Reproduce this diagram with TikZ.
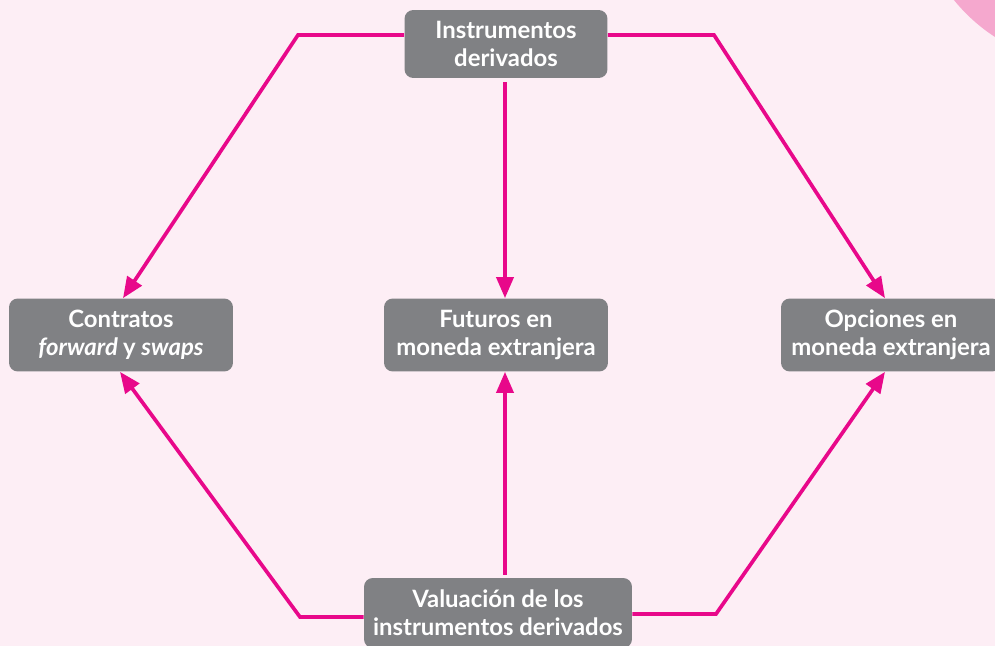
\documentclass[tikz,border=0pt]{standalone}
\usepackage{fontspec}
\setmainfont{Lato}
\usetikzlibrary{positioning,calc,arrows.meta}
\definecolor{bgpink}{HTML}{FDEEF5}
\definecolor{blobpink}{HTML}{F5A8CE}
\definecolor{boxgray}{HTML}{808184}
\definecolor{linkmag}{HTML}{E8088A}

\begin{document}
\begin{tikzpicture}[x=0.02cm, y=-0.02cm,
  every node/.style={fill=boxgray, rectangle, rounded corners=5pt, align=center, text=white, font=\bfseries\fontsize{13.6}{16}\selectfont, inner sep=0pt},
  link/.style={draw=linkmag, line width=2.1pt, -{Triangle[length=0.42cm, width=0.34cm]}}]
\useasboundingbox (0,0) rectangle (995,646);
\clip (0,0) rectangle (995,646);
\fill[bgpink] (0,0) rectangle (995,646);
\fill[blobpink] (1090,-110) circle[radius=3.5cm];

\node (instr) [minimum width=4.06cm, minimum height=1.36cm] at (506,44) {Instrumentos\\derivados};
\node (contratos) [minimum width=4.48cm, minimum height=1.46cm] at (121,335) {Contratos\\\itshape forward \upshape y \itshape swaps};
\node (futuros) [minimum width=4.48cm, minimum height=1.46cm] at (496,335) {Futuros en\\moneda extranjera};
\node (opciones) [minimum width=4.4cm, minimum height=1.46cm] at (891,335) {Opciones en\\moneda extranjera};
\node (valuacion) [minimum width=5.36cm, minimum height=1.4cm] at (498,613) {Valuación de los\\instrumentos derivados};

\draw[link] ($(instr.west)+(0,-9)$) -- (298,35) -- ($(contratos.north)+(2,0)$);
\draw[link] ($(instr.east)+(0,-9)$) -- (714,35) -- ($(opciones.north)+(-6,0)$);
\draw[link] ($(instr.south)+(-1,4)$) -- ($(futuros.north)+(9,0)$);
\draw[link] ($(valuacion.west)+(0,4)$) -- (300,617) -- ($(contratos.south)+(-1,0)$);
\draw[link] ($(valuacion.north)+(7,-3)$) -- ($(futuros.south)+(9,0)$);
\draw[link] ($(valuacion.east)+(0,1)$) -- (716,614) -- ($(opciones.south)+(-6,0)$);
\end{tikzpicture}
\end{document}
